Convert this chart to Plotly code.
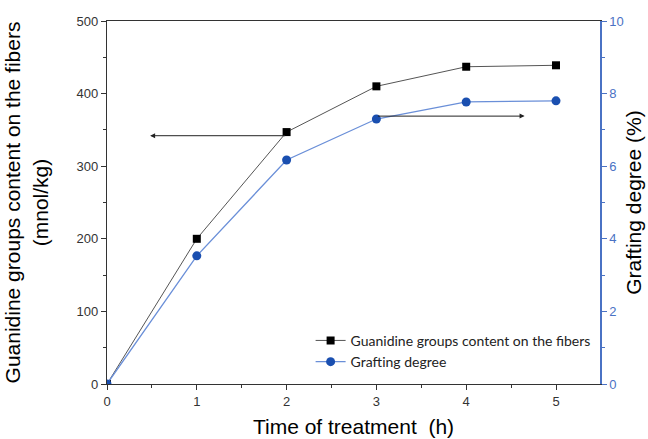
import plotly.graph_objects as go

time_h = [0, 1, 2, 3, 4, 5]
guanidine = [0, 200, 347, 410, 437, 439]
grafting = [0, 3.53, 6.17, 7.3, 7.77, 7.8]

BLUE_AX = "#4a72c4"
fig = go.Figure()
fig.add_trace(go.Scatter(
    x=time_h, y=guanidine, name="Guanidine groups content on the fibers",
    mode="lines+markers", line=dict(color="#555555", width=1),
    marker=dict(symbol="square", color="black", size=8)))
fig.add_trace(go.Scatter(
    x=time_h, y=grafting, name="Grafting degree", yaxis="y2",
    mode="lines+markers", line=dict(color="#6a8fd8", width=1.3),
    marker=dict(symbol="circle", color="#1a4fb0", size=9)))

fig.add_annotation(x=0.48, y=342, ax=2, ay=342, xref="x", yref="y", axref="x", ayref="y",
                   showarrow=True, arrowhead=2, arrowsize=1, arrowwidth=1, arrowcolor="#222222", text="")
fig.add_annotation(x=4.65, y=7.38, ax=3, ay=7.38, xref="x", yref="y2", axref="x", ayref="y2",
                   showarrow=True, arrowhead=2, arrowsize=1, arrowwidth=1, arrowcolor="#222222", text="")

tickfont = dict(family="Liberation Sans, Arial", size=13, color="#333333")
titlefont = dict(family="Liberation Sans, Arial", size=21, color="black")

fig.update_layout(
    width=648, height=439,
    margin=dict(l=107, r=48, t=21, b=55),
    paper_bgcolor="white", plot_bgcolor="white",
    showlegend=True,
    legend=dict(x=0.413, y=0.09, xanchor="left", yanchor="middle",
                font=dict(family="Lato, Open Sans", size=14, color="#222222"),
                bgcolor="rgba(0,0,0,0)", tracegroupgap=0, itemwidth=30),
    xaxis=dict(range=[0, 5.49], tickvals=[0, 1, 2, 3, 4, 5], showline=True, linecolor="#333333",
               linewidth=1.3, mirror=True, ticks="outside", ticklen=5, tickcolor="#333333",
               minor=dict(ticks="outside", ticklen=3, dtick=0.5, tickcolor="#333333"),
               showgrid=False, zeroline=False, tickfont=tickfont, automargin=False,
               title=dict(text="Time of treatment  (h)", font=titlefont, standoff=11)),
    yaxis=dict(range=[0, 500], dtick=100, showline=True, linecolor="#333333", linewidth=1.3,
               ticks="outside", ticklen=5, tickcolor="#333333",
               minor=dict(ticks="outside", ticklen=3, dtick=50, tickcolor="#333333"),
               showgrid=False, zeroline=False, tickfont=tickfont, automargin=False,
               title=dict(text="Guanidine groups content on the fibers<br>(mnol/kg)", font=titlefont, standoff=22)),
    yaxis2=dict(range=[0, 10], dtick=2, overlaying="y", side="right", showline=True,
                linecolor=BLUE_AX, linewidth=1.5, ticks="outside", ticklen=5, tickcolor=BLUE_AX,
                minor=dict(ticks="outside", ticklen=3, dtick=1, tickcolor=BLUE_AX),
                showgrid=False, zeroline=False, automargin=False,
                tickfont=dict(family="Liberation Sans, Arial", size=13, color=BLUE_AX),
                title=dict(text="Grafting degree (%)", font=titlefont, standoff=3)),
)

fig.write_html("out.html", config={"displayModeBar": False},
               post_script="document.body.style.margin='0';")
